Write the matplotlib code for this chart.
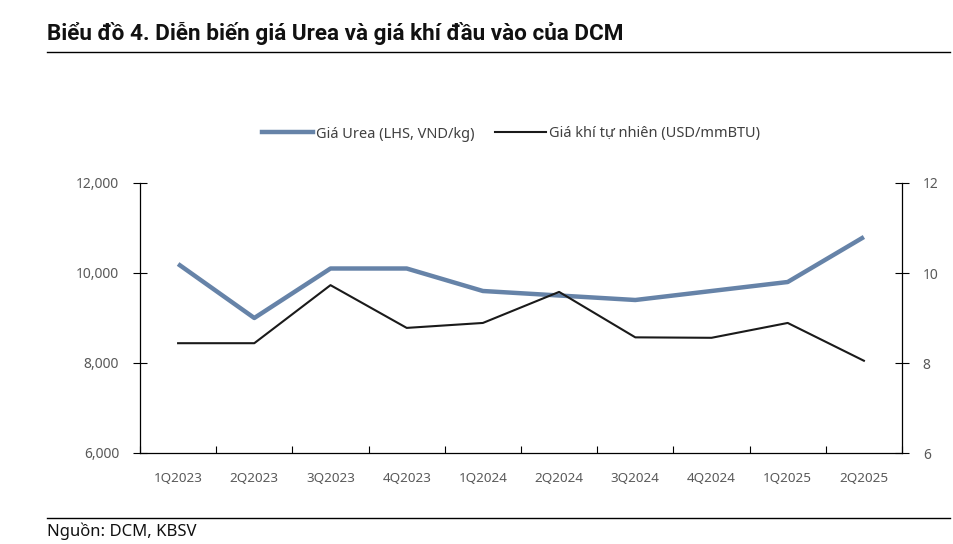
import matplotlib.pyplot as plt
from matplotlib.lines import Line2D

plt.rcParams['font.family'] = ['Noto Sans', 'DejaVu Sans']

quarters = ['1Q2023', '2Q2023', '3Q2023', '4Q2023', '1Q2024',
            '2Q2024', '3Q2024', '4Q2024', '1Q2025', '2Q2025']
urea = [10200, 9000, 10100, 10100, 9600, 9500, 9400, 9600, 9800, 10800]
gas = [8.44, 8.44, 9.73, 8.78, 8.89, 9.58, 8.57, 8.56, 8.89, 8.05]

urea_color = '#6683A8'
grey = '#595959'

fig = plt.figure(figsize=(9.54, 5.44), dpi=100)
ax = fig.add_axes([140 / 954, 1 - 453 / 544, 762 / 954, 270 / 544])
ax2 = ax.twinx()

x = list(range(len(quarters)))
ax.plot(x, urea, color=urea_color, lw=3.2, solid_capstyle='butt', zorder=3)
ax2.plot(x, gas, color='#1a1a1a', lw=1.5, zorder=4)

ax.set_xlim(-0.5, len(quarters) - 0.5)
ax.set_ylim(6000, 12000)
ax2.set_ylim(6, 12)
ax.set_yticks([6000, 8000, 10000, 12000])
ax.set_yticklabels([f'{v:,}' for v in [6000, 8000, 10000, 12000]])
ax2.set_yticks([6, 8, 10, 12])

# category labels centred, ticks at boundaries
ax.set_xticks(x)
ax.set_xticklabels(quarters)
ax.set_xticks([i - 0.5 for i in range(len(quarters) + 1)], minor=True)
ax.tick_params(axis='x', which='major', length=0, pad=14, labelsize=9.7, labelcolor=grey)
ax.tick_params(axis='x', which='minor', direction='in', length=5, width=0.8)
ax.tick_params(axis='y', direction='inout', length=10, width=0.8, pad=10,
               labelsize=10, labelcolor=grey)
ax2.tick_params(axis='y', direction='inout', length=10, width=0.8, pad=10,
                labelsize=10, labelcolor=grey)

for a in (ax, ax2):
    a.spines['top'].set_visible(False)
    for s in ('left', 'right', 'bottom'):
        a.spines[s].set_linewidth(0.9)
ax.spines['right'].set_visible(False)
ax2.spines['left'].set_visible(False)
ax2.spines['bottom'].set_visible(False)

handles = [Line2D([], [], color=urea_color, lw=3.2),
           Line2D([], [], color='#1a1a1a', lw=1.5)]
fig.legend(handles, ['Giá Urea (LHS, VND/kg)', 'Giá khí tự nhiên (USD/mmBTU)'],
           loc='center', bbox_to_anchor=(511 / 954, 1 - 134 / 544), ncol=2,
           frameon=False, fontsize=10.5, handlelength=3.5, handletextpad=0.2,
           columnspacing=1.4, labelcolor='#404040')

fig.text(47 / 954, 1 - 33 / 544, 'Biểu đồ 4. Diễn biến giá Urea và giá khí đầu vào của DCM',
         fontsize=16.2, fontweight='bold', family=['Roboto', 'DejaVu Sans'],
         va='center', ha='left', color='#111111')
fig.add_artist(Line2D([47 / 954, 950 / 954], [1 - 52 / 544] * 2, color='black', lw=1))
fig.add_artist(Line2D([47 / 954, 950 / 954], [1 - 518 / 544] * 2, color='black', lw=1))
fig.text(47 / 954, 1 - 531 / 544, 'Nguồn: DCM, KBSV', fontsize=12, va='center',
         ha='left', color='#111111')

fig.savefig('out.png', dpi=100)
